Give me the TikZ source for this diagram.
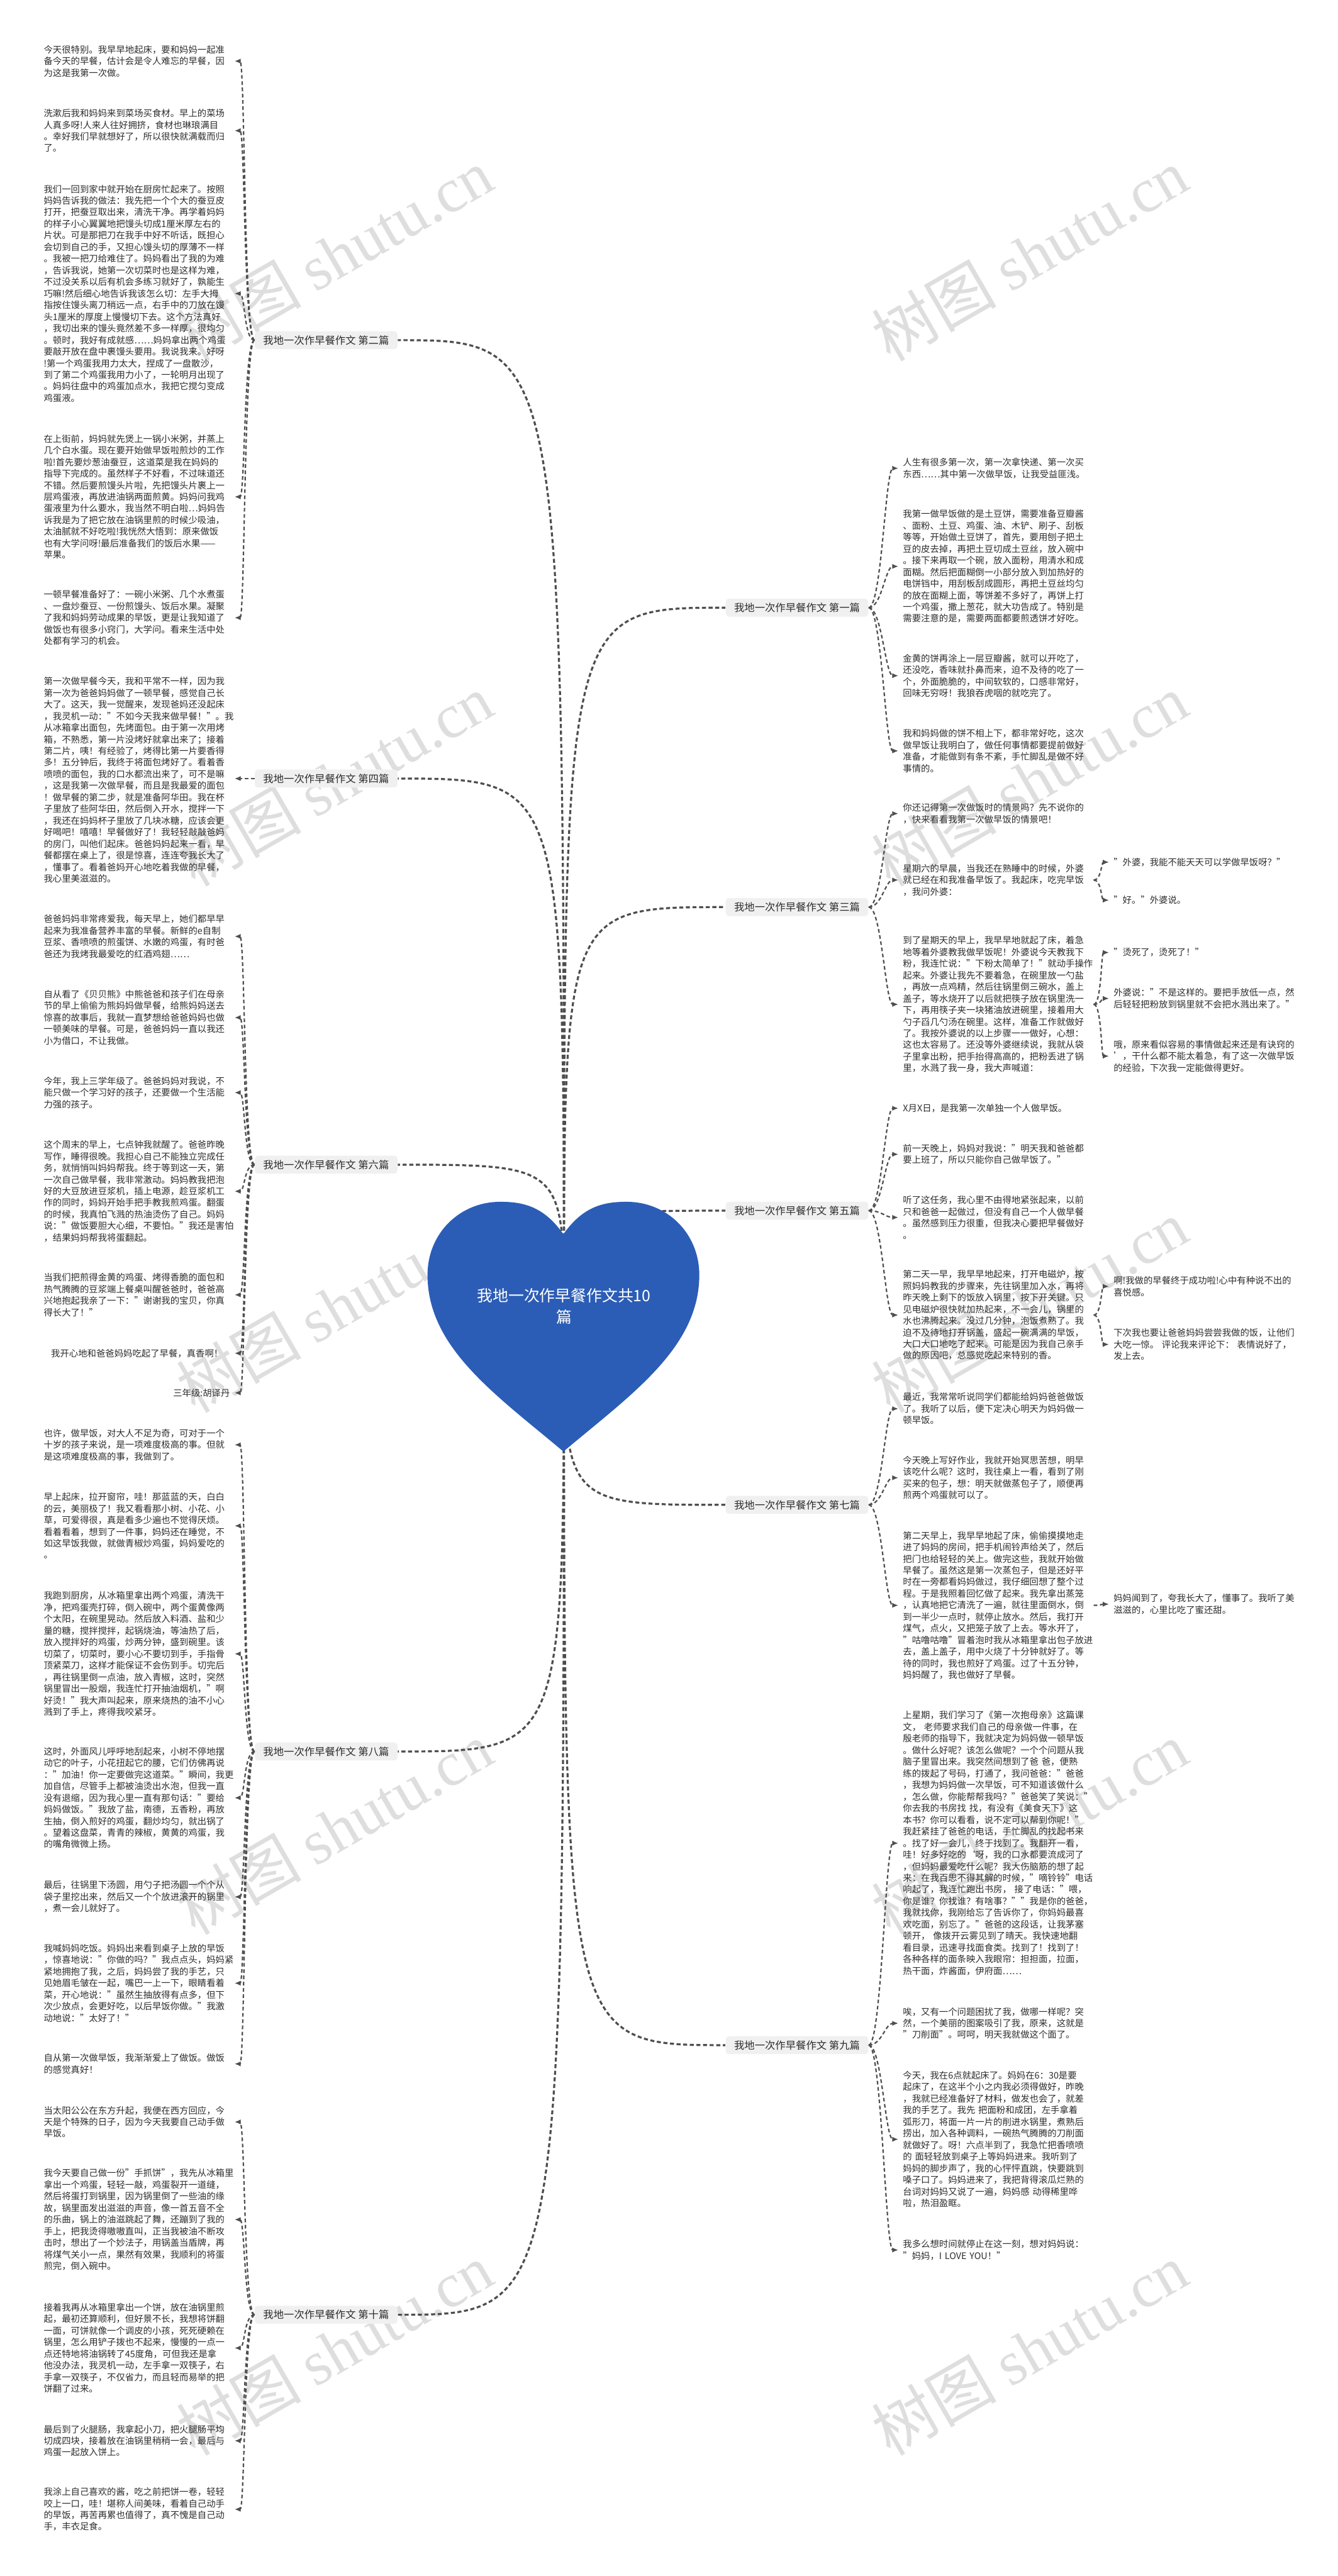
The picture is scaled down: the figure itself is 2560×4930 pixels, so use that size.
\documentclass[tikz,border=0pt]{standalone}
\usepackage{fontspec}
\setmainfont{Noto Sans CJK SC}
\newfontfamily\wmlatin{Liberation Serif}
\usepackage{tikz}
\usetikzlibrary{arrows.meta}
\usepackage{xcolor}
\definecolor{heartblue}{RGB}{44,93,182}
\definecolor{linegray}{RGB}{78,78,78}
\definecolor{topicfill}{RGB}{240,240,240}
\definecolor{textgray}{RGB}{45,45,45}
\definecolor{wmgray}{RGB}{222,222,222}
\newcommand{\leaffont}{\fontsize{4.92pt}{6.32pt}\selectfont}
\newcommand{\topicfont}{\fontsize{5.6pt}{6.8pt}\selectfont}
\newcommand{\rootfont}{\fontsize{8.5pt}{11.4pt}\selectfont}
\newcommand{\wmtext}{{\fontsize{34pt}{34pt}\selectfont 树图 \wmlatin shutu.cn}}

\begin{document}
\begin{tikzpicture}[x=0.01cm,y=-0.01cm]
\tikzstyle{leafL}=[anchor=north west,inner xsep=0.08cm,inner ysep=0pt,text width=3.56cm,align=left,font=\leaffont,text=textgray]
\tikzstyle{leafR}=[leafL]
\tikzstyle{topic}=[fill=topicfill,rounded corners=0.06cm,inner xsep=0.16cm,inner ysep=0.08cm,font=\topicfont,text=textgray]
\tikzstyle{hubline}=[draw=linegray,line width=1.1pt,dash pattern=on 2.2pt off 1.4pt]
\tikzstyle{leafline}=[draw=linegray,line width=0.75pt,dash pattern=on 2pt off 1.4pt,-{Latex[length=3.4pt,width=2.8pt]}]
\tikzstyle{wmark}=[text=wmgray,rotate=30,inner sep=0pt]
\fill[white] (0,0) rectangle (2560,4930);
\useasboundingbox (0,0) rectangle (2560,4930);

\foreach \y [count=\i] in {487,1493,2500,3499,4496}{
\node[wmark] (wl\i) at (640,\y) {\wmtext};
\node[wmark] (wr\i) at (1970,\y) {\wmtext};
}

\node[topic] (t2) at (624,651) {我地一次作早餐作文 第二篇};
\node[topic] (t4) at (624,1490) {我地一次作早餐作文 第四篇};
\node[topic] (t6) at (624,2229) {我地一次作早餐作文 第六篇};
\node[topic] (t8) at (624,3352) {我地一次作早餐作文 第八篇};
\node[topic] (t10) at (624,4430) {我地一次作早餐作文 第十篇};
\node[topic] (t1) at (1525,1163) {我地一次作早餐作文 第一篇};
\node[topic] (t3) at (1525,1736) {我地一次作早餐作文 第三篇};
\node[topic] (t5) at (1525,2317) {我地一次作早餐作文 第五篇};
\node[topic] (t7) at (1525,2880) {我地一次作早餐作文 第七篇};
\node[topic] (t9) at (1525,3914) {我地一次作早餐作文 第九篇};

\node[leafL] (l2a) at (75,86) {今天很特别。我早早地起床，要和妈妈一起准\\备今天的早餐，估计会是令人难忘的早餐，因\\为这是我第一次做。};
\node[leafL] (l2b) at (75,208) {洗漱后我和妈妈来到菜场买食材。早上的菜场\\人真多呀!人来人往好拥挤，食材也琳琅满目\\。幸好我们早就想好了，所以很快就满载而归\\了。};
\node[leafL] (l2c) at (75,353) {我们一回到家中就开始在厨房忙起来了。按照\\妈妈告诉我的做法：我先把一个个大的蚕豆皮\\打开，把蚕豆取出来，清洗干净。再学着妈妈\\的样子小心翼翼地把馒头切成1厘米厚左右的\\片状。可是那把刀在我手中好不听话，既担心\\会切到自己的手，又担心馒头切的厚薄不一样\\。我被一把刀给难住了。妈妈看出了我的为难\\，告诉我说，她第一次切菜时也是这样为难，\\不过没关系以后有机会多练习就好了，孰能生\\巧嘛!然后细心地告诉我该怎么切：左手大拇\\指按住馒头离刀稍远一点，右手中的刀放在馒\\头1厘米的厚度上慢慢切下去。这个方法真好\\，我切出来的馒头竟然差不多一样厚，很均匀\\。顿时，我好有成就感……妈妈拿出两个鸡蛋\\要敲开放在盘中裹馒头要用。我说我来。好呀\\!第一个鸡蛋我用力太大，捏成了一盘散沙，\\到了第二个鸡蛋我用力小了，一轮明月出现了\\。妈妈往盘中的鸡蛋加点水，我把它搅匀变成\\鸡蛋液。};
\node[leafL] (l2d) at (75,831) {在上街前，妈妈就先煲上一锅小米粥，并蒸上\\几个白水蛋。现在要开始做早饭啦煎炒的工作\\啦!首先要炒葱油蚕豆，这道菜是我在妈妈的\\指导下完成的。虽然样子不好看，不过味道还\\不错。然后要煎馒头片啦，先把馒头片裹上一\\层鸡蛋液，再放进油锅两面煎黄。妈妈问我鸡\\蛋液里为什么要水，我当然不明白啦…妈妈告\\诉我是为了把它放在油锅里煎的时候少吸油，\\太油腻就不好吃啦!我恍然大悟到：原来做饭\\也有大学问呀!最后准备我们的饭后水果——\\苹果。};
\node[leafL] (l2e) at (75,1129) {一顿早餐准备好了：一碗小米粥、几个水煮蛋\\、一盘炒蚕豆、一份煎馒头、饭后水果。凝聚\\了我和妈妈劳动成果的早饭，更是让我知道了\\做饭也有很多小窍门，大学问。看来生活中处\\处都有学习的机会。};

\node[leafL] (l4a) at (75,1295) {第一次做早餐今天，我和平常不一样，因为我\\第一次为爸爸妈妈做了一顿早餐，感觉自己长\\大了。这天，我一觉醒来，发现爸妈还没起床\\，我灵机一动："不如今天我来做早餐！"。我\\从冰箱拿出面包，先烤面包。由于第一次用烤\\箱，不熟悉，第一片没烤好就拿出来了；接着\\第二片，咦！有经验了，烤得比第一片要香得\\多！五分钟后，我终于将面包烤好了。看着香\\喷喷的面包，我的口水都流出来了，可不是嘛\\，这是我第一次做早餐，而且是我最爱的面包\\！做早餐的第二步，就是准备阿华田。我在杯\\子里放了些阿华田，然后倒入开水，搅拌一下\\，我还在妈妈杯子里放了几块冰糖，应该会更\\好喝吧！嘻嘻！早餐做好了！我轻轻敲敲爸妈\\的房门，叫他们起床。爸爸妈妈起来一看，早\\餐都摆在桌上了，很是惊喜，连连夸我长大了\\，懂事了。看着爸妈开心地吃着我做的早餐，\\我心里美滋滋的。};

\node[leafL] (l6a) at (75,1750) {爸爸妈妈非常疼爱我，每天早上，她们都早早\\起来为我准备营养丰富的早餐。新鲜的e自制\\豆浆、香喷喷的煎蛋饼、水嫩的鸡蛋，有时爸\\爸还为我烤我最爱吃的红酒鸡翅……};
\node[leafL] (l6b) at (75,1894) {自从看了《贝贝熊》中熊爸爸和孩子们在母亲\\节的早上偷偷为熊妈妈做早餐，给熊妈妈送去\\惊喜的故事后，我就一直梦想给爸爸妈妈也做\\一顿美味的早餐。可是，爸爸妈妈一直以我还\\小为借口，不让我做。};
\node[leafL] (l6c) at (75,2060) {今年，我上三学年级了。爸爸妈妈对我说，不\\能只做一个学习好的孩子，还要做一个生活能\\力强的孩子。};
\node[leafL] (l6d) at (75,2182) {这个周末的早上，七点钟我就醒了。爸爸昨晚\\写作，睡得很晚。我担心自己不能独立完成任\\务，就悄悄叫妈妈帮我。终于等到这一天，第\\一次自己做早餐，我非常激动。妈妈教我把泡\\好的大豆放进豆浆机，插上电源，趁豆浆机工\\作的同时，妈妈开始手把手教我煎鸡蛋。翻蛋\\的时候，我真怕飞溅的热油烫伤了自己。妈妈\\说："做饭要胆大心细，不要怕。"我还是害怕\\，结果妈妈帮我将蛋翻起。};
\node[leafL] (l6e) at (75,2436) {当我们把煎得金黄的鸡蛋、烤得香脆的面包和\\热气腾腾的豆浆端上餐桌叫醒爸爸时，爸爸高\\兴地抱起我亲了一下："谢谢我的宝贝，你真\\得长大了！"};
\node[leafL] (l6f) at (75,2581) {\hspace*{0.14cm}我开心地和爸爸妈妈吃起了早餐，真香啊！};
\node[leafL,align=right] (l6g) at (75,2657) {三年级:胡译丹};

\node[leafL] (l8a) at (75,2734) {也许，做早饭，对大人不足为奇，可对于一个\\十岁的孩子来说，是一项难度极高的事。但就\\是这项难度极高的事，我做到了。};
\node[leafL] (l8b) at (75,2856) {早上起床，拉开窗帘，哇！那蓝蓝的天，白白\\的云，美丽极了！我又看看那小树、小花、小\\草，可爱得很，真是看多少遍也不觉得厌烦。\\看着看着，想到了一件事，妈妈还在睡觉，不\\如这早饭我做，就做青椒炒鸡蛋，妈妈爱吃的\\。};
\node[leafL] (l8c) at (75,3045) {我跑到厨房，从冰箱里拿出两个鸡蛋，清洗干\\净，把鸡蛋壳打碎，倒入碗中，两个蛋黄像两\\个太阳，在碗里晃动。然后放入料酒、盐和少\\量的糖，搅拌搅拌，起锅烧油，等油热了后，\\放入搅拌好的鸡蛋，炒两分钟，盛到碗里。该\\切菜了，切菜时，要小心不要切到手，手指骨\\顶紧菜刀，这样才能保证不会伤到手。切完后\\，再往锅里倒一点油，放入青椒，这时，突然\\锅里冒出一股烟，我连忙打开抽油烟机，"啊\\好烫！"我大声叫起来，原来烧热的油不小心\\溅到了手上，疼得我咬紧牙。};
\node[leafL] (l8d) at (75,3343) {这时，外面风儿呼呼地刮起来，小树不停地摆\\动它的叶子，小花扭起它的腰，它们仿佛再说\\："加油！你一定要做完这道菜。"瞬间，我更\\加自信，尽管手上都被油烫出水泡，但我一直\\没有退缩，因为我心里一直有那句话："要给\\妈妈做饭。"我放了盐，南德，五香粉，再放\\生抽，倒入煎好的鸡蛋，翻炒均匀，就出锅了\\。望着这盘菜，青青的辣椒，黄黄的鸡蛋，我\\的嘴角微微上扬。};
\node[leafL] (l8e) at (75,3599) {最后，往锅里下汤圆，用勺子把汤圆一个个从\\袋子里挖出来，然后又一个个放进滚开的锅里\\，煮一会儿就好了。};
\node[leafL] (l8f) at (75,3720) {我喊妈妈吃饭。妈妈出来看到桌子上放的早饭\\，惊喜地说："你做的吗？"我点点头，妈妈紧\\紧地拥抱了我，之后，妈妈尝了我的手艺，只\\见她眉毛皱在一起，嘴巴一上一下，眼睛看着\\菜，开心地说："虽然生抽放得有点多，但下\\次少放点，会更好吃，以后早饭你做。"我激\\动地说："太好了！"};
\node[leafL] (l8g) at (75,3930) {自从第一次做早饭，我渐渐爱上了做饭。做饭\\的感觉真好！};

\node[leafL] (l10a) at (75,4030) {当太阳公公在东方升起，我便在西方回应，今\\天是个特殊的日子，因为今天我要自己动手做\\早饭。};
\node[leafL] (l10b) at (75,4150) {我今天要自己做一份"手抓饼"，我先从冰箱里\\拿出一个鸡蛋，轻轻一敲，鸡蛋裂开一道缝，\\然后将蛋打到锅里，因为锅里倒了一些油的缘\\故，锅里面发出滋滋的声音，像一首五音不全\\的乐曲，锅上的油滋跳起了舞，还蹦到了我的\\手上，把我烫得嗷嗷直叫，正当我被油不断攻\\击时，想出了一个妙法子，用锅盖当盾牌，再\\将煤气关小一点，果然有效果，我顺利的将蛋\\煎完，倒入碗中。};
\node[leafL] (l10c) at (75,4407) {接着我再从冰箱里拿出一个饼，放在油锅里煎\\起，最初还算顺利，但好景不长，我想将饼翻\\一面，可饼就像一个调皮的小孩，死死硬赖在\\锅里，怎么用铲子拨也不起来，慢慢的一点一\\点还特地将油锅转了45度角，可但我还是拿\\他没办法，我灵机一动，左手拿一双筷子，右\\手拿一双筷子，不仅省力，而且轻而易举的把\\饼翻了过来。};
\node[leafL] (l10d) at (75,4640) {最后到了火腿肠，我拿起小刀，把火腿肠平均\\切成四块，接着放在油锅里稍稍一会，最后与\\鸡蛋一起放入饼上。};
\node[leafL] (l10e) at (75,4760) {我涂上自己喜欢的酱，吃之前把饼一卷，轻轻\\咬上一口，哇！堪称人间美味，看着自己动手\\的早饭，再苦再累也值得了，真不愧是自己动\\手，丰衣足食。};

\node[leafR] (r1a) at (1719,876) {人生有很多第一次，第一次拿快递、第一次买\\东西……其中第一次做早饭，让我受益匪浅。};
\node[leafR] (r1b) at (1719,975) {我第一做早饭做的是土豆饼，需要准备豆瓣酱\\、面粉、土豆、鸡蛋、油、木铲、刷子、刮板\\等等，开始做土豆饼了，首先，要用刨子把土\\豆的皮去掉，再把土豆切成土豆丝，放入碗中\\。接下来再取一个碗，放入面粉，用清水和成\\面糊。然后把面糊倒一小部分放入到加热好的\\电饼铛中，用刮板刮成圆形，再把土豆丝均匀\\的放在面糊上面，等饼差不多好了，再饼上打\\一个鸡蛋，撒上葱花，就大功告成了。特别是\\需要注意的是，需要两面都要煎透饼才好吃。};
\node[leafR] (r1c) at (1719,1251) {金黄的饼再涂上一层豆瓣酱，就可以开吃了，\\还没吃，香味就扑鼻而来，迫不及待的吃了一\\个，外面脆脆的，中间软软的，口感非常好，\\回味无穷呀！我狼吞虎咽的就吃完了。};
\node[leafR] (r1d) at (1719,1395) {我和妈妈做的饼不相上下，都非常好吃，这次\\做早饭让我明白了，做任何事情都要提前做好\\准备，才能做到有条不紊，手忙脚乱是做不好\\事情的。};

\node[leafR] (r3a) at (1719,1537) {你还记得第一次做饭时的情景吗？先不说你的\\，快来看看我第一次做早饭的情景吧！};
\node[leafR] (r3b) at (1719,1653) {星期六的早晨，当我还在熟睡中的时候，外婆\\就已经在和我准备早饭了。我起床，吃完早饭\\，我问外婆：};
\node[leafR] (r3c) at (1719,1791) {到了星期天的早上，我早早地就起了床，着急\\地等着外婆教我做早饭呢！外婆说今天教我下\\粉，我连忙说："下粉太简单了！"就动手操作\\起来。外婆让我先不要着急，在碗里放一勺盐\\，再放一点鸡精，然后往锅里倒三碗水，盖上\\盖子，等水烧开了以后就把筷子放在锅里洗一\\下，再用筷子夹一块猪油放进碗里，接着用大\\勺子舀几勺汤在碗里。这样，准备工作就做好\\了。我按外婆说的以上步骤一一做好，心想：\\这也太容易了。还没等外婆继续说，我就从袋\\子里拿出粉，把手抬得高高的，把粉丢进了锅\\里，水溅了我一身，我大声喊道：};

\node[leafR] (r5a) at (1719,2112) {X月X日，是我第一次单独一个人做早饭。};
\node[leafR] (r5b) at (1719,2189) {前一天晚上，妈妈对我说："明天我和爸爸都\\要上班了，所以只能你自己做早饭了。"};
\node[leafR] (r5c) at (1719,2288) {听了这任务，我心里不由得地紧张起来，以前\\只和爸爸一起做过，但没有自己一个人做早餐\\。虽然感到压力很重，但我决心要把早餐做好\\。};
\node[leafR] (r5d) at (1719,2430) {第二天一早，我早早地起来，打开电磁炉，按\\照妈妈教我的步骤来，先往锅里加入水，再将\\昨天晚上剩下的饭放入锅里，按下开关键。只\\见电磁炉很快就加热起来，不一会儿，锅里的\\水也沸腾起来。没过几分钟，泡饭煮熟了。我\\迫不及待地打开锅盖，盛起一碗满满的早饭，\\大口大口地吃了起来。可能是因为我自己亲手\\做的原因吧，总感觉吃起来特别的香。};

\node[leafR] (r7a) at (1719,2665) {最近，我常常听说同学们都能给妈妈爸爸做饭\\了。我听了以后，便下定决心明天为妈妈做一\\顿早饭。};
\node[leafR] (r7b) at (1719,2786) {今天晚上写好作业，我就开始冥思苦想，明早\\该吃什么呢？这时，我往桌上一看，看到了刚\\买来的包子，想：明天就做蒸包子了，顺便再\\煎两个鸡蛋就可以了。};
\node[leafR] (r7c) at (1719,2930) {第二天早上，我早早地起了床，偷偷摸摸地走\\进了妈妈的房间，把手机闹铃声给关了，然后\\把门也给轻轻的关上。做完这些，我就开始做\\早餐了。虽然这是第一次蒸包子，但是还好平\\时在一旁都看妈妈做过，我仔细回想了整个过\\程。于是我照着回忆做了起来。我先拿出蒸笼\\，认真地把它清洗了一遍，就往里面倒水，倒\\到一半少一点时，就停止放水。然后，我打开\\煤气，点火，又把笼子放了上去。等水开了，\\"咕噜咕噜"冒着泡时我从冰箱里拿出包子放进\\去，盖上盖子，用中火烧了十分钟就好了。等\\待的同时，我也煎好了鸡蛋。过了十五分钟，\\妈妈醒了，我也做好了早餐。};

\node[leafR] (r9a) at (1719,3274) {上星期，我们学习了《第一次抱母亲》这篇课\\文， 老师要求我们自己的母亲做一件事，在\\殷老师的指导下，我就决定为妈妈做一顿早饭\\。做什么好呢？该怎么做呢？一个个问题从我\\脑子里冒出来。我突然间想到了爸 爸，便熟\\练的拨起了号码，打通了，我问爸爸："爸爸\\，我想为妈妈做一次早饭，可不知道该做什么\\，怎么做，你能帮帮我吗？"爸爸笑了笑说："\\你去我的书房找 找，有没有《美食天下》这\\本书？你可以看看，说不定可以帮到你呢！"\\我赶紧挂了爸爸的电话，手忙脚乱的找起书来\\。找了好一会儿，终于找到了。我翻开一看，\\哇！好多好吃的`呀，我的口水都要流成河了\\，但妈妈最爱吃什么呢？我大伤脑筋的想了起\\来：在我百思不得其解的时候，"嘀铃铃"电话\\响起了，我连忙跑出书房， 接了电话："喂，\\你是谁？你找谁？有啥事？""我是你的爸爸，\\我就找你，我刚给忘了告诉你了，你妈妈最喜\\欢吃面，别忘了。"爸爸的这段话，让我茅塞\\顿开， 像拨开云雾见到了晴天。我快速地翻\\看目录，迅速寻找面食类。找到了！找到了！\\各种各样的面条映入我眼帘：担担面，拉面，\\热干面，炸酱面，伊府面……};
\node[leafR] (r9b) at (1719,3841) {唉，又有一个问题困扰了我，做哪一样呢？突\\然，一个美丽的图案吸引了我，原来，这就是\\"刀削面"。呵呵，明天我就做这个面了。};
\node[leafR] (r9c) at (1719,3963) {今天，我在6点就起床了。妈妈在6：30是要\\起床了，在这半个小之内我必须得做好，昨晚\\，我就已经准备好了材料，做发也会了，就差\\我的手艺了。我先 把面粉和成团，左手拿着\\弧形刀，将面一片一片的削进水锅里，煮熟后\\捞出，加入各种调料，一碗热气腾腾的刀削面\\就做好了。呀！六点半到了，我急忙把香喷喷\\的 面轻轻放到桌子上等妈妈进来。我听到了\\妈妈的脚步声了，我的心怦怦直跳，快要跳到\\嗓子口了。妈妈进来了，我把背得滚瓜烂熟的\\台词对妈妈又说了一遍，妈妈感 动得稀里哗\\啦，热泪盈眶。};
\node[leafR] (r9d) at (1719,4286) {我多么想时间就停止在这一刻，想对妈妈说：\\"妈妈，I LOVE YOU！"};

\node[leafR] (q3a) at (2122,1641) {"外婆，我能不能天天可以学做早饭呀？"};
\node[leafR] (q3b) at (2122,1714) {"好。"外婆说。};
\node[leafR] (q3c) at (2122,1814) {"烫死了，烫死了！"};
\node[leafR] (q3d) at (2122,1891) {外婆说："不是这样的。要把手放低一点，然\\后轻轻把粉放到锅里就不会把水溅出来了。"};
\node[leafR] (q3e) at (2122,1990) {哦，原来看似容易的事情做起来还是有诀窍的\\'，干什么都不能太着急，有了这一次做早饭\\的经验，下次我一定能做得更好。};
\node[leafR] (q5a) at (2122,2442) {啊!我做的早餐终于成功啦!心中有种说不出的\\喜悦感。};
\node[leafR] (q5b) at (2122,2542) {下次我也要让爸爸妈妈尝尝我做的饭，让他们\\大吃一惊。 评论我来评论下： 表情说好了，\\发上去。};
\node[leafR] (q7a) at (2122,3050) {妈妈闻到了，夸我长大了，懂事了。我听了美\\滋滋的，心里比吃了蜜还甜。};

\coordinate (hub) at (1079,2520);
\foreach \t in {t2,t4,t6,t8,t10}
\draw[hubline] (hub) .. controls (hub |- \t) .. (\t.east);
\foreach \t in {t1,t3,t5,t7,t9}
\draw[hubline] (hub) .. controls (hub |- \t) .. (\t.west);

\foreach \k in {l2a,l2b,l2c,l2d,l2e}
\draw[leafline] (t2.west) .. controls +(-20,0) and +(20,0) .. (\k.east);
\draw[leafline] (t4.west) -- (l4a.east |- t4.west);
\foreach \k in {l6a,l6b,l6c,l6d,l6e,l6f,l6g}
\draw[leafline] (t6.west) .. controls +(-20,0) and +(20,0) .. (\k.east);
\foreach \k in {l8a,l8b,l8c,l8d,l8e,l8f,l8g}
\draw[leafline] (t8.west) .. controls +(-20,0) and +(20,0) .. (\k.east);
\foreach \k in {l10a,l10b,l10c,l10d,l10e}
\draw[leafline] (t10.west) .. controls +(-20,0) and +(20,0) .. (\k.east);

\foreach \k in {r1a,r1b,r1c,r1d}
\draw[leafline] (t1.east) .. controls +(25,0) and +(-25,0) .. (\k.west);
\foreach \k in {r3a,r3b,r3c}
\draw[leafline] (t3.east) .. controls +(25,0) and +(-25,0) .. (\k.west);
\foreach \k in {r5a,r5b,r5c,r5d}
\draw[leafline] (t5.east) .. controls +(25,0) and +(-25,0) .. (\k.west);
\foreach \k in {r7a,r7b,r7c}
\draw[leafline] (t7.east) .. controls +(25,0) and +(-25,0) .. (\k.west);
\foreach \k in {r9a,r9b,r9c,r9d}
\draw[leafline] (t9.east) .. controls +(25,0) and +(-25,0) .. (\k.west);

\foreach \k in {q3a,q3b}
\draw[leafline] (r3b.east) .. controls +(15,0) and +(-15,0) .. (\k.west);
\foreach \k in {q3c,q3d,q3e}
\draw[leafline] (r3c.east) .. controls +(15,0) and +(-15,0) .. (\k.west);
\foreach \k in {q5a,q5b}
\draw[leafline] (r5d.east) .. controls +(15,0) and +(-15,0) .. (\k.west);
\draw[leafline] (r7c.east) .. controls +(15,0) and +(-15,0) .. (q7a.west);

\fill[heartblue] (1078,2362) .. controls (1040,2308) and (1000,2300) .. (957,2300)
 .. controls (880,2300) and (818,2360) .. (818,2440)
 .. controls (818,2580) and (950,2670) .. (1078,2778)
 .. controls (1206,2670) and (1338,2580) .. (1338,2440)
 .. controls (1338,2360) and (1276,2300) .. (1199,2300)
 .. controls (1156,2300) and (1116,2308) .. (1078,2362) -- cycle;
\node[text=white,font=\rootfont,align=center] (root) at (1079,2500) {我地一次作早餐作文共10\\篇};
\end{tikzpicture}
\end{document}
